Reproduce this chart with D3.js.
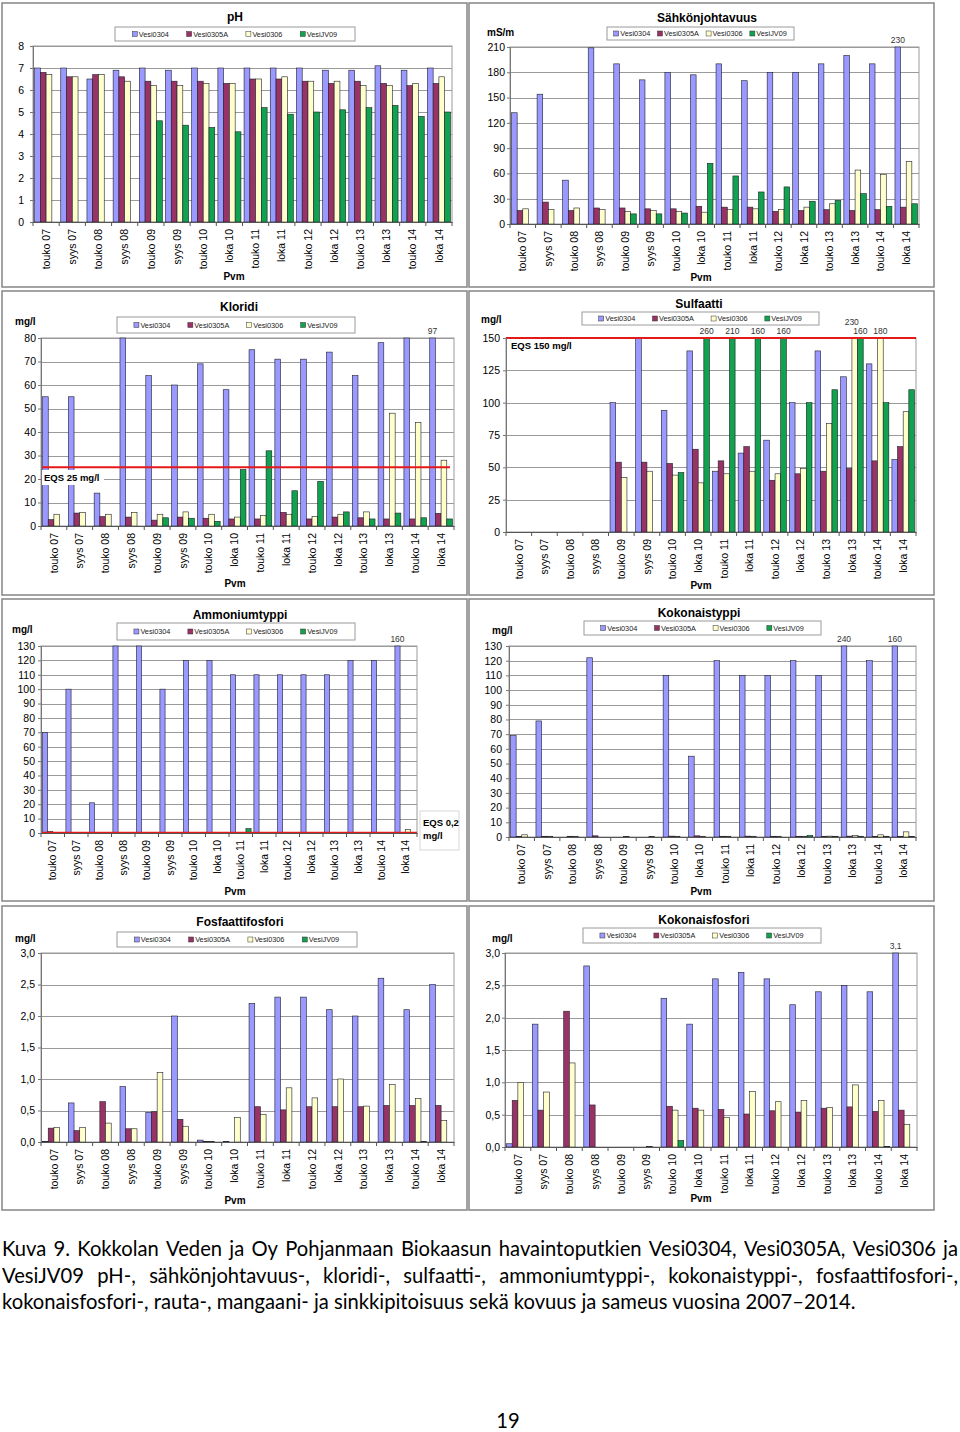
<!DOCTYPE html>
<html><head><meta charset="utf-8">
<script src="https://cdn.jsdelivr.net/npm/d3@7"></script>
<style>body{margin:0;background:#fff} svg{display:block}</style>
</head><body>
<svg id="c" width="960" height="1432"></svg>
<script>
const categories = ["touko 07","syys 07","touko 08","syys 08","touko 09","syys 09","touko 10","loka 10","touko 11","loka 11","touko 12","loka 12","touko 13","loka 13","touko 14","loka 14"];
const seriesNames = ["Vesi0304","Vesi0305A","Vesi0306","VesiJV09"];
const seriesColors = ["#9999ff","#993366","#ffffcc","#10a24e"];

// pH
const ph_Vesi0304  = [7.0,7.0,6.5,6.9,7.0,6.9,7.0,7.0,7.0,7.0,7.0,6.9,6.9,7.1,6.9,7.0];
const ph_Vesi0305A = [6.8,6.6,6.7,6.6,6.4,6.4,6.4,6.3,6.5,6.5,6.4,6.3,6.4,6.3,6.2,6.3];
const ph_Vesi0306  = [6.7,6.6,6.7,6.4,6.2,6.2,6.3,6.3,6.5,6.6,6.4,6.4,6.2,6.2,6.3,6.6];
const ph_VesiJV09  = [null,null,null,null,4.6,4.4,4.3,4.1,5.2,4.9,5.0,5.1,5.2,5.3,4.8,5.0];
// Sähkönjohtavuus (mS/m)
const ec_Vesi0304  = [132,154,52,209,190,171,180,177,190,170,180,180,190,200,190,230];
const ec_Vesi0305A = [16,26,16,19,19,18,18,21,20,20,15,16,17,16,17,20];
const ec_Vesi0306  = [18,17,19,17,15,16,15,14,17,18,17,20,24,64,59,74];
const ec_VesiJV09  = [null,null,null,null,12,12,13,72,57,38,44,27,28,36,21,24];
// Kloridi (mg/l)
const cl_Vesi0304  = [55,55,14,80,64,60,69,58,75,71,71,74,64,78,80,97];
const cl_Vesi0305A = [2.7,5.5,4,3.8,2.5,3.8,3.3,3,3,5.8,3,3.8,3.5,3,3,5.4];
const cl_Vesi0306  = [5,5.8,5,5.8,5,6,5,3.8,4.5,5,4,5,6,48,44,28];
const cl_VesiJV09  = [null,null,null,null,3.5,3.3,2,24,32,15,19,6,3,5.5,3.5,3];
// Sulfaatti (mg/l)
const so_Vesi0304  = [null,null,null,null,100,150,94,140,47,61,71,100,140,120,130,56];
const so_Vesi0305A = [null,null,null,null,54,54,53,64,55,66,40,45,47,49,55,66];
const so_Vesi0306  = [null,null,null,null,42,47,44,38,45,47,45,49,84,230,180,93];
const so_VesiJV09  = [null,null,null,null,null,null,46,260,210,160,160,100,110,160,100,110];
// Ammoniumtyppi (mg/l)
const nh_Vesi0304  = [70,100,21,130,130,100,120,120,110,110,110,110,110,120,120,160];
const nh_Vesi0305A = [1,0.4,0.4,0.4,0.4,0.4,0.4,0.4,0.4,0.4,0.4,0.4,0.4,0.4,0.4,0.4];
const nh_Vesi0306  = [0.2,0.1,0.1,0.1,0.1,0.1,0.1,0.1,0.1,0.1,0.1,0.1,0.1,0.1,0.1,2.5];
const nh_VesiJV09  = [null,null,null,null,0.1,0.1,0.1,0.1,3,0.1,0.1,0.1,0.1,0.1,0.1,0.1];
// Kokonaistyppi (mg/l)
const tn_Vesi0304  = [69,79,null,122,null,null,110,55,120,110,110,120,110,240,120,160];
const tn_Vesi0305A = [0.5,0.5,0.5,0.8,null,null,0.6,0.8,0.5,0.6,0.5,0.5,0.5,0.6,0.5,0.5];
const tn_Vesi0306  = [1.5,0.5,0.5,null,0.3,0.3,0.5,0.5,0.5,0.5,0.5,0.5,0.6,1,1.5,3.5];
const tn_VesiJV09  = [null,null,null,null,null,null,null,null,null,null,null,1,0.5,0.5,0.5,0.3];
// Fosfaattifosfori (mg/l)
const po_Vesi0304  = [0.01,0.62,null,0.88,0.47,2.0,0.03,0.01,2.2,2.3,2.3,2.1,2.0,2.6,2.1,2.5];
const po_Vesi0305A = [0.22,0.18,0.64,0.21,0.48,0.36,0.01,null,0.56,0.51,0.56,0.56,0.56,0.58,0.58,0.58];
const po_Vesi0306  = [0.23,0.23,0.3,0.21,1.1,0.25,0.01,0.39,0.44,0.86,0.7,1.0,0.57,0.91,0.69,0.34];
const po_VesiJV09  = [null,null,null,null,null,null,null,null,null,null,null,null,null,null,0.01,null];
// Kokonaisfosfori (mg/l)
const tp_Vesi0304  = [0.05,1.9,null,2.8,null,null,2.3,1.9,2.6,2.7,2.6,2.2,2.4,2.5,2.4,3.1];
const tp_Vesi0305A = [0.72,0.57,2.1,0.65,null,null,0.63,0.6,0.58,0.51,0.56,0.54,0.6,0.62,0.55,0.57];
const tp_Vesi0306  = [1.0,0.85,1.3,null,null,0.01,0.57,0.57,0.46,0.86,0.7,0.72,0.61,0.96,0.72,0.35];
const tp_VesiJV09  = [null,null,null,null,null,null,0.1,null,null,null,null,null,null,null,0.01,null];

const captionLines = [
  "Kuva 9. Kokkolan Veden ja Oy Pohjanmaan Biokaasun havaintoputkien Vesi0304, Vesi0305A, Vesi0306 ja",
  "VesiJV09 pH-, sähkönjohtavuus-, kloridi-, sulfaatti-, ammoniumtyppi-, kokonaistyppi-, fosfaattifosfori-,",
  "kokonaisfosfori-, rauta-, mangaani- ja sinkkipitoisuus sekä kovuus ja sameus vuosina 2007–2014."
];
const pageNumber = "19";

const panels = [
  {title:"pH", series:[ph_Vesi0304,ph_Vesi0305A,ph_Vesi0306,ph_VesiJV09], max:8, step:1, dec:0,
   box:[2,3,465,284], plot:[33,452,46,222], legend:[115,27,240,14], titleXY:[235,17], unit:null, pvm:[234,276], pad:6},
  {title:"Sähkönjohtavuus", series:[ec_Vesi0304,ec_Vesi0305A,ec_Vesi0306,ec_VesiJV09], max:210, step:30, dec:0,
   box:[469,3,465,284], plot:[510,919,47,224], legend:[607,27,187,13], titleXY:[707,18], unit:["mS/m",487,32], pvm:[701,277], pad:2},
  {title:"Kloridi", series:[cl_Vesi0304,cl_Vesi0305A,cl_Vesi0306,cl_VesiJV09], max:80, step:10, dec:0,
   box:[2,291,465,304], plot:[41,454,338,526], legend:[117,317,238,16], titleXY:[239,307], unit:["mg/l",15,321], pvm:[235,583], pad:2,
   eqs:{v:25, label:"EQS 25 mg/l", lx:44, ly:478, bg:[41,470,63,15], x2:450}},
  {title:"Sulfaatti", series:[so_Vesi0304,so_Vesi0305A,so_Vesi0306,so_VesiJV09], max:150, step:25, dec:0,
   box:[469,291,465,304], plot:[506,916,338,532], legend:[582,312,237,13], titleXY:[699,304], unit:["mg/l",481,319], pvm:[701,585], pad:3,
   eqs:{v:150, label:"EQS 150 mg/l", lx:511, ly:346}},
  {title:"Ammoniumtyppi", series:[nh_Vesi0304,nh_Vesi0305A,nh_Vesi0306,nh_VesiJV09], max:130, step:10, dec:0,
   box:[2,599,465,302], plot:[41,417,646,833], legend:[117,623,238,17], titleXY:[240,615], unit:["mg/l",12,629], pvm:[235,891], pad:3,
   eqs:{v:0.2, side:[420,811,39,39], sideText:["EQS 0,2","mg/l"]}},
  {title:"Kokonaistyppi", series:[tn_Vesi0304,tn_Vesi0305A,tn_Vesi0306,tn_VesiJV09], max:130, step:10, dec:0,
   box:[469,599,465,302], plot:[509,916,646,837], legend:[584,621,237,14], titleXY:[699,613], unit:["mg/l",492,630], pvm:[701,891], pad:4},
  {title:"Fosfaattifosfori", series:[po_Vesi0304,po_Vesi0305A,po_Vesi0306,po_VesiJV09], max:3, step:0.5, dec:1,
   box:[2,906,465,304], plot:[41,454,953,1142], legend:[117,932,240,15], titleXY:[240,922], unit:["mg/l",15,938], pvm:[235,1200], pad:3},
  {title:"Kokonaisfosfori", series:[tp_Vesi0304,tp_Vesi0305A,tp_Vesi0306,tp_VesiJV09], max:3, step:0.5, dec:1,
   box:[469,906,465,304], plot:[505,917,953,1147], legend:[583,928,238,15], titleXY:[704,920], unit:["mg/l",492,938], pvm:[701,1198], pad:2}
];

const svg = d3.select("#c");
const FONT = "'Liberation Sans', Arial, Helvetica, sans-serif";
const fmt = dec => v => d3.format(`.${dec}f`)(v).replace(".", ",");

function drawPanel(p) {
  const g = svg.append("g").attr("font-family", FONT);
  g.append("rect").attr("x", p.box[0]).attr("y", p.box[1]).attr("width", p.box[2]).attr("height", p.box[3])
    .attr("fill", "#fff").attr("stroke", "#8c8c8c").attr("stroke-width", 1.6);
  const [L, R, T, B] = p.plot;
  const x0 = d3.scaleBand().domain(categories).range([L, R]).paddingInner(0.12).paddingOuter(0.06);
  const x1 = d3.scaleBand().domain(d3.range(4)).range([0, x0.bandwidth()]);
  const y = d3.scaleLinear().domain([0, p.max]).range([B, T]);
  const ticks = d3.range(0, p.max + p.step / 2, p.step);

  // gridlines
  g.append("g").selectAll("line").data(ticks).join("line")
    .attr("x1", L).attr("x2", R).attr("y1", d => Math.round(y(d)) + 0.5).attr("y2", d => Math.round(y(d)) + 0.5)
    .attr("stroke", "#9a9a9a").attr("stroke-width", 1);
  g.append("rect").attr("x", L).attr("y", T).attr("width", R - L).attr("height", B - T)
    .attr("fill", "none").attr("stroke", "#9a9a9a");

  // bars
  const clipped = [];
  p.series.forEach((arr, si) => {
    const data = categories.map((c, i) => ({ c, v: arr[i] })).filter(d => d.v != null);
    g.append("g").selectAll("rect").data(data).join("rect")
      .attr("x", d => x0(d.c) + x1(si))
      .attr("width", x1.bandwidth())
      .attr("y", d => y(Math.min(d.v, p.max)))
      .attr("height", d => B - y(Math.min(d.v, p.max)))
      .attr("fill", seriesColors[si])
      .attr("stroke", "#1e1e2a").attr("stroke-width", 0.6);
    data.filter(d => d.v > p.max).forEach(d => clipped.push({ x: x0(d.c) + x1(si) + x1.bandwidth() / 2, v: d.v }));
  });

  // EQS
  if (p.eqs) {
    const e = p.eqs;
    if (e.bg) g.append("rect").attr("x", e.bg[0]).attr("y", e.bg[1]).attr("width", e.bg[2]).attr("height", e.bg[3]).attr("fill", "#fff");
    g.append("line").attr("x1", L).attr("x2", e.x2 || R).attr("y1", y(e.v)).attr("y2", y(e.v))
      .attr("stroke", "#e41a1a").attr("stroke-width", 2);
    if (e.label) g.append("text").attr("x", e.lx).attr("y", e.ly).attr("dy", "0.35em")
      .attr("font-size", 9.5).attr("font-weight", "bold").text(e.label);
    if (e.side) {
      g.append("rect").attr("x", e.side[0]).attr("y", e.side[1]).attr("width", e.side[2]).attr("height", e.side[3])
        .attr("fill", "#fff").attr("stroke", "#d8d8d8");
      e.sideText.forEach((t, i) => g.append("text").attr("x", e.side[0] + 3).attr("y", e.side[1] + 12 + i * 13)
        .attr("dy", "0.35em").attr("font-size", 9.5).attr("font-weight", "bold").text(t));
    }
  }

  // labels for clipped bars
  clipped.sort((a, b) => a.x - b.x);
  clipped.forEach((c, i) => {
    const next = clipped[i + 1];
    const close = next && next.x - c.x < 14;
    g.append("text").attr("x", c.x - (close ? 3 : 0)).attr("y", T - 4 - (close ? 9 : 0)).attr("text-anchor", "middle")
      .attr("font-size", 8.5).attr("fill", "#333").text(fmt(c.v % 1 ? 1 : 0)(c.v));
  });

  // y axis
  const ya = g.append("g").attr("transform", `translate(${L},0)`)
    .call(d3.axisLeft(y).tickValues(ticks).tickFormat(fmt(p.dec)).tickSize(3).tickPadding(p.pad));
  ya.select(".domain").attr("stroke", "#777");
  ya.selectAll(".tick line").attr("stroke", "#777");
  ya.selectAll("text").attr("font-size", 10.5).attr("font-family", FONT).attr("fill", "#000");

  // x axis
  const xa = g.append("g").attr("transform", `translate(0,${B})`)
    .call(d3.axisBottom(x0).tickSize(0).tickPadding(0));
  xa.select(".domain").attr("stroke", "#555");
  xa.selectAll("text").attr("transform", "rotate(-90)").attr("text-anchor", "end")
    .attr("x", -7).attr("y", 0).attr("dy", "0.35em")
    .attr("font-size", 10.5).attr("font-family", FONT).attr("fill", "#000");
  const stepW = x0.step();
  g.append("g").selectAll("line").data(d3.range(categories.length + 1)).join("line")
    .attr("x1", i => L + i * stepW).attr("x2", i => L + i * stepW).attr("y1", B).attr("y2", B + 4)
    .attr("stroke", "#555");

  // title, unit, Pvm
  g.append("text").attr("x", p.titleXY[0]).attr("y", p.titleXY[1]).attr("dy", "0.35em").attr("text-anchor", "middle")
    .attr("font-size", 12).attr("font-weight", "bold").text(p.title);
  if (p.unit) g.append("text").attr("x", p.unit[1]).attr("y", p.unit[2]).attr("dy", "0.35em")
    .attr("font-size", 10).attr("font-weight", "bold").text(p.unit[0]);
  g.append("text").attr("x", p.pvm[0]).attr("y", p.pvm[1]).attr("dy", "0.35em").attr("text-anchor", "middle")
    .attr("font-size", 10).attr("font-weight", "bold").text("Pvm");

  // legend: items spread evenly by measured width
  const [lx, ly, lw, lh] = p.legend;
  g.append("rect").attr("x", lx).attr("y", ly).attr("width", lw).attr("height", lh)
    .attr("fill", "#fff").attr("stroke", "#9a9a9a");
  let lfs = 7.3;
  const items = seriesNames.map((n, i) => {
    const t = g.append("text").attr("y", ly + lh / 2).attr("dy", "0.35em").attr("font-size", lfs).attr("fill", "#222").text(n);
    return t;
  });
  let widths = items.map(t => t.node().getComputedTextLength() + 7);
  let gap = (lw - d3.sum(widths)) / 5;
  if (gap < 4) {
    lfs = lfs * (lw - 25) / d3.sum(widths.map(w => w - 7)) * 0.97;
    items.forEach(t => t.attr("font-size", lfs));
    widths = items.map(t => t.node().getComputedTextLength() + 7);
    gap = (lw - d3.sum(widths)) / 5;
  }
  let cx = lx + gap;
  items.forEach((t, i) => {
    g.append("rect").attr("x", cx).attr("y", ly + lh / 2 - 2.5).attr("width", 5).attr("height", 5)
      .attr("fill", seriesColors[i]).attr("stroke", "#333").attr("stroke-width", 0.5);
    t.attr("x", cx + 6.5);
    cx += widths[i] + gap;
  });
}

panels.forEach(drawPanel);

// caption
const CF = "Lato, 'Open Sans', sans-serif";
const capG = svg.append("g").attr("font-family", CF).attr("fill", "#000");
const probe = capG.append("text").attr("font-size", 18).text(captionLines[2]);
const w3 = probe.node().getComputedTextLength();
probe.remove();
const capSize = 18 * 854 / w3;
const lineY = [1249, 1276, 1302];
captionLines.forEach((line, li) => {
  if (li === captionLines.length - 1) {
    capG.append("text").attr("x", 2).attr("y", lineY[li]).attr("dy", "0.35em").attr("font-size", capSize).text(line);
    return;
  }
  const words = line.split(" ");
  const nodes = words.map(w => capG.append("text").attr("y", lineY[li]).attr("dy", "0.35em").attr("font-size", capSize).text(w));
  const widths = nodes.map(n => n.node().getComputedTextLength());
  const total = d3.sum(widths);
  const gap = (956 - total) / (words.length - 1);
  let cx = 2;
  nodes.forEach((n, i) => { n.attr("x", cx); cx += widths[i] + gap; });
});
capG.append("text").attr("x", 508).attr("y", 1421).attr("dy", "0.35em").attr("text-anchor", "middle")
  .attr("font-size", capSize).text(pageNumber);
</script>
</body></html>
